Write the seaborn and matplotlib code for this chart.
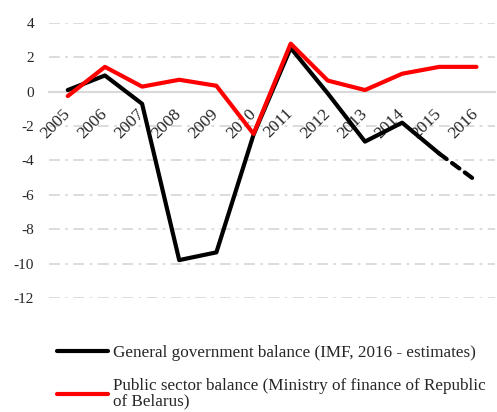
import matplotlib.pyplot as plt
import pandas as pd
import seaborn as sns

# values (% of GDP)
years = [2005, 2006, 2007, 2008, 2009, 2010, 2011, 2012, 2013, 2014, 2015, 2016]
gov_balance = [0.1, 0.95, -0.7, -9.8, -9.35, -2.5, 2.55, -0.1, -2.9, -1.8, -3.6, -5.2]
public_balance = [-0.25, 1.45, 0.3, 0.7, 0.35, -2.45, 2.8, 0.65, 0.1, 1.05, 1.45, 1.45]
y_ticks = [4, 2, 0, -2, -4, -6, -8, -10, -12]

GOV_LABEL = "General government balance (IMF, 2016 - estimates)"
PUB_LABEL = "Public sector balance (Ministry of finance of Republic\nof Belarus)"

sns.set_theme(style="white")
plt.rcParams['font.family'] = ['Liberation Serif', 'DejaVu Serif']
plt.rcParams['font.size'] = 12

df = pd.DataFrame({'year': years, 'gov': gov_balance, 'pub': public_balance})
df_solid = df[df['year'] <= 2015]
df_est = df[df['year'] >= 2015]

fig = plt.figure(figsize=(4.97, 4.12), dpi=100)
ax = fig.add_axes([0.099, 0.277, 0.897, 0.667])

# grid lines (dash-dot) and the solid zero line
for t in y_ticks:
    if t == 0:
        continue
    ax.axhline(t, color='#d9d9d9', lw=1.3, ls=(0, (6, 3, 1.5, 3)), zorder=0)

sns.lineplot(data=df_solid, x='year', y='gov', color='black', lw=3,
             ax=ax, label=GOV_LABEL, solid_capstyle='round', zorder=3)
sns.lineplot(data=df_est, x='year', y='gov', color='black', lw=3,
             ax=ax, ls=(0, (2.2, 1.6)), dash_capstyle='round', zorder=3)
sns.lineplot(data=df, x='year', y='pub', color='#ff0000', lw=3,
             ax=ax, label=PUB_LABEL, zorder=4)

# axis line through zero (done before the tick labels: it resets ticks)
for s in ['top', 'right', 'left']:
    ax.spines[s].set_visible(False)
ax.spines['bottom'].set_position(('data', 0))
ax.spines['bottom'].set_color('#d9d9d9')
ax.spines['bottom'].set_linewidth(1.5)
ax.spines['bottom'].set_zorder(1)

ax.set_xlim(2004.5, 2016.5)
ax.set_ylim(-12, 4)
ax.set_yticks(y_ticks)
ax.set_yticklabels([str(t) for t in y_ticks])
ax.set_xticks(years)
ax.set_xticklabels([str(y) for y in years], rotation=45, ha='right',
                   va='center', rotation_mode='anchor', fontsize=12.5)
ax.set_xlabel('')
ax.set_ylabel('')
ax.tick_params(axis='x', length=0, pad=14)
ax.tick_params(axis='y', length=0, pad=11)

ax.get_legend().remove()
h, l = ax.get_legend_handles_labels()
leg = fig.legend(h, l, loc='upper left', bbox_to_anchor=(0.1, 0.18),
                 frameon=False, handlelength=3.0, handletextpad=0.3,
                 labelspacing=1.0, borderaxespad=0, fontsize=12.3)
for txt in leg.get_texts():
    txt.set_linespacing(1.0)

fig.savefig('out.png', dpi=100)
